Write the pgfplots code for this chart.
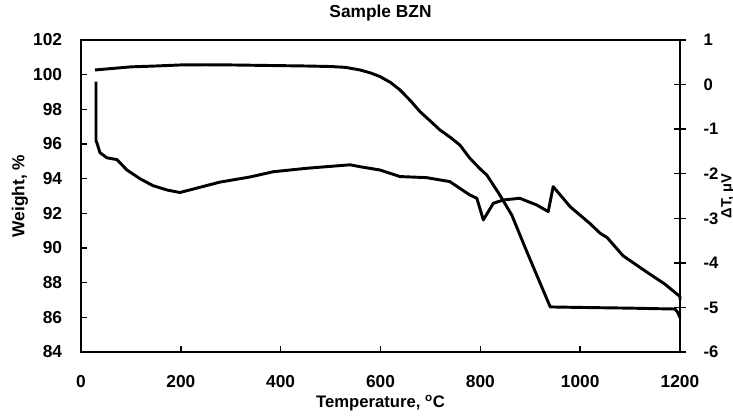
\documentclass[border=0pt]{standalone}
\usepackage{fontspec}
\setmainfont{Liberation Sans}
\usepackage{pgfplots}
\pgfplotsset{compat=1.18}
\newcommand\tf{\fontsize{13pt}{15pt}\selectfont\bfseries}
\newcommand\lf{\fontsize{12.5pt}{15pt}\selectfont\bfseries}
\newcommand\rf{\fontsize{11pt}{13pt}\selectfont\bfseries}
\begin{document}
\begin{tikzpicture}
\path[use as bounding box] (0,0) rectangle (549.75pt,312pt);
\begin{axis}[
  at={(60.75pt,48pt)}, anchor=south west,
  scale only axis, width=449.25pt, height=234pt,
  xmin=0, xmax=1200, ymin=84, ymax=102,
  xtick={0,200,...,1200}, ytick={84,86,...,102},
  xtick pos=bottom, ytick pos=left, tick align=inside,
  major tick length=4.5pt,
  axis line style={line width=1.2pt},
  every tick/.style={black, line width=1.1pt},
  /pgf/number format/assume math mode=true,
  /pgf/number format/1000 sep={},
  ticklabel style={font=\tf, inner sep=0pt},
  yticklabel style={anchor=east, xshift=-14pt},
  xticklabel style={anchor=north, yshift=-17pt},
  title={Sample BZN},
  title style={font=\tf, at={(0.5,1.061)}, anchor=center},
  xlabel={Temperature, \textsuperscript{o}C},
  xlabel style={font=\lf, at={(0.5,-0.163)}, anchor=center},
  ylabel={Weight, \%},
  ylabel style={font=\tf, at={(-0.102,0.5)}, anchor=center, rotate=0},
  clip=false,
]
\addplot[black, line width=2.2pt, line join=round] coordinates {
(28,100.27) (60,100.35) (100,100.45) (150,100.50) (200,100.56) (250,100.57)
(300,100.56) (350,100.54) (400,100.52) (450,100.50) (500,100.47) (530,100.42)
(559,100.27) (580,100.10) (599,99.89) (620,99.55) (639,99.12) (660,98.50)
(679,97.87) (700,97.32) (719,96.81) (740,96.38) (759,95.94) (779,95.18)
(800,94.55) (813,94.21) (839,93.06) (863,91.9) (893,89.8) (915,88.3)
(940,86.6) (1000,86.57) (1050,86.55) (1100,86.53) (1150,86.5) (1190,86.48)
(1195,86.3) (1200,86.0)
};
\end{axis}
\begin{axis}[
  at={(60.75pt,48pt)}, anchor=south west,
  scale only axis, width=449.25pt, height=234pt,
  xmin=0, xmax=1200, ymin=-6, ymax=1,
  axis x line=none, axis y line*=right,
  ytick={-6,-5,...,1},
  tick align=center, major tick length=9pt,
  axis line style={line width=1.2pt},
  every tick/.style={black, line width=1.1pt},
  /pgf/number format/assume math mode=true,
  ticklabel style={font=\lf, inner sep=0pt},
  yticklabel style={anchor=west, xshift=13pt},
  ylabel={ΔT, μV},
  ylabel style={font=\rf, at={(1.08,0.5)}, anchor=center, rotate=0},
  clip=false,
]
\addplot[black, line width=2.2pt, line join=round] coordinates {
(30,0.067) (30,-1.256) (32,-1.314) (38,-1.528) (52,-1.644) (72,-1.683)
(92,-1.917) (118,-2.111) (144,-2.267) (172,-2.364) (198,-2.422) (238,-2.306)
(278,-2.189) (319,-2.111) (339,-2.072) (385,-1.956) (452,-1.878) (539,-1.80)
(559,-1.843) (599,-1.917) (639,-2.064) (692,-2.088) (739,-2.177) (759,-2.329)
(779,-2.477) (793,-2.551) (806,-3.037) (826,-2.663) (846,-2.589) (879,-2.551)
(913,-2.702) (936,-2.850) (946,-2.290) (980,-2.741) (1020,-3.122) (1040,-3.336)
(1054,-3.433) (1086,-3.842) (1134,-4.211) (1170,-4.48) (1200,-4.756) (1200,-4.833)
};
\end{axis}
\end{tikzpicture}
\end{document}
